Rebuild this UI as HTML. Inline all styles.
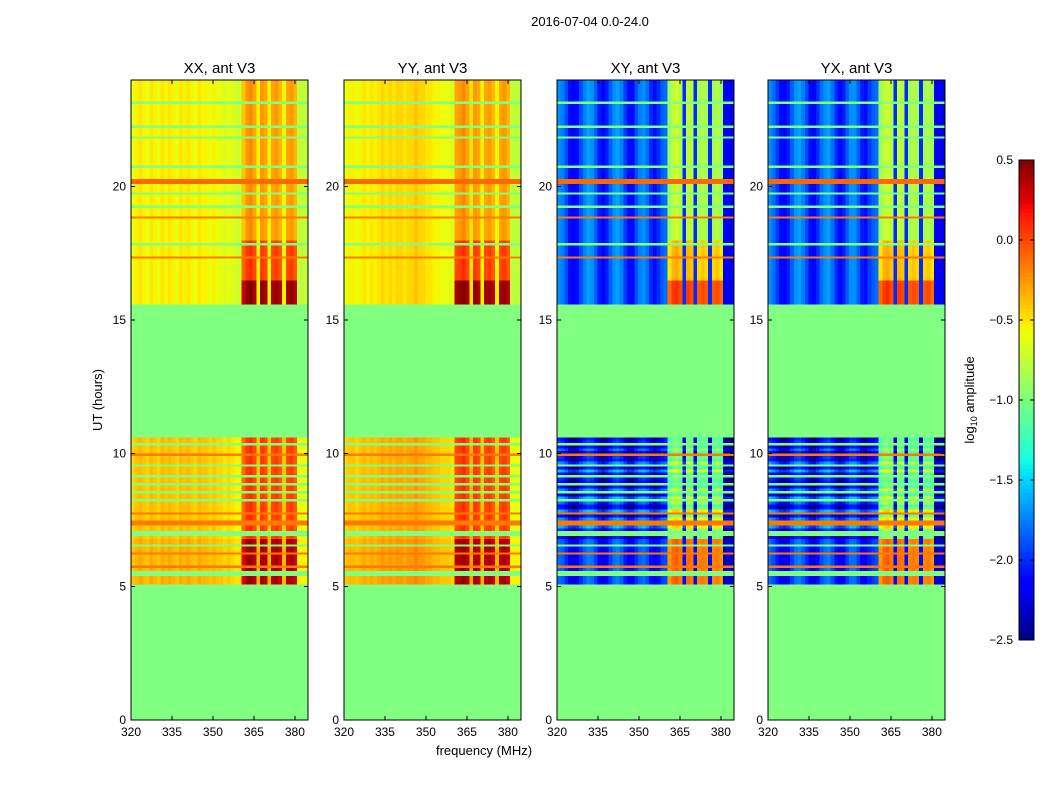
<!DOCTYPE html>
<html><head><meta charset="utf-8"><style>
body{margin:0;background:#fff;width:1050px;height:800px;overflow:hidden;font-family:"Liberation Sans",sans-serif}
svg text{font-family:"Liberation Sans",sans-serif}
</style></head><body>
<svg id="fig" width="1050" height="800" xmlns="http://www.w3.org/2000/svg" shape-rendering="crispEdges">
<rect width="1050" height="800" fill="#fff"/>
<text x="590" y="26" font-size="13" text-anchor="middle">2016-07-04 0.0-24.0</text>
<text transform="translate(102,400) rotate(-90)" font-size="13" text-anchor="middle">UT (hours)</text>
<text x="484" y="755" font-size="13" text-anchor="middle">frequency (MHz)</text>
<g id="panels"></g>
<g id="cbar"></g>
</svg>
<script>
// ---- data arrays ----
const panelTitles=["XX, ant V3","YY, ant V3","XY, ant V3","YX, ant V3"];
const xTicks=[320,335,350,365,380];
const yTicks=[0,5,10,15,20];
const cbTicks=[0.5,0.0,-0.5,-1.0,-1.5,-2.0,-2.5];
// 48 channel profiles (log10 amplitude), 320 -> 384.8 MHz
const profXX=[-0.6,-0.55,-0.5,-0.55,-0.6,-0.5,-0.55,-0.6,-0.5,-0.55,-0.5,-0.55,-0.6,-0.5,-0.55,-0.5,-0.55,-0.6,-0.5,-0.55,-0.55,-0.6,-0.55,-0.6,-0.6,-0.65,-0.6,-0.65,-0.7,-0.7,-0.45,-0.3,-0.25,-0.35,-0.55,-0.3,-0.35,-0.55,-0.35,-0.3,-0.4,-0.55,-0.35,-0.3,-0.4,-0.75,-0.75,-0.75];
const profYY=[-0.6,-0.55,-0.55,-0.6,-0.55,-0.5,-0.55,-0.5,-0.55,-0.5,-0.45,-0.5,-0.45,-0.5,-0.45,-0.45,-0.5,-0.45,-0.45,-0.4,-0.45,-0.45,-0.5,-0.5,-0.55,-0.55,-0.6,-0.6,-0.6,-0.65,-0.35,-0.3,-0.25,-0.35,-0.5,-0.3,-0.35,-0.55,-0.35,-0.3,-0.4,-0.55,-0.35,-0.3,-0.4,-0.75,-0.75,-0.75];
const profXY=[-1.7,-1.75,-1.9,-2.1,-2.15,-2.1,-1.9,-1.75,-1.65,-1.7,-1.85,-2.05,-2.15,-2.05,-1.85,-1.7,-1.65,-1.75,-1.95,-2.1,-2.1,-1.9,-1.75,-1.7,-1.8,-2.0,-2.1,-2.0,-1.85,-1.8,-1.0,-0.85,-0.8,-0.9,-2.0,-0.85,-0.9,-2.0,-0.95,-0.9,-0.95,-2.0,-0.95,-0.9,-1.0,-2.2,-2.2,-2.2];
const profYX=[-1.7,-1.8,-1.95,-2.1,-2.15,-2.05,-1.85,-1.7,-1.65,-1.75,-1.9,-2.1,-2.15,-2.0,-1.8,-1.7,-1.65,-1.8,-2.0,-2.1,-2.05,-1.85,-1.7,-1.7,-1.85,-2.05,-2.1,-1.95,-1.85,-1.8,-1.0,-0.85,-0.8,-0.9,-2.0,-0.85,-0.9,-2.0,-0.95,-0.9,-0.95,-2.0,-0.95,-0.9,-1.0,-2.2,-2.2,-2.2];
const bandMask=[0,0,0,0,0,0,0,0,0,0,0,0,0,0,0,0,0,0,0,0,0,0,0,0,0,0,0,0,0,0,1,1,1,1,0,1,1,0,1,1,1,0,1,1,1,0,0,0];
// time segments: [startHour, endHour, rowOffset, bandBoost]
const segCo=[[5.1,6.8,0.2,0.5],[6.8,10.6,0.15,0.2],[15.6,16.5,0.0,0.75],[16.5,18.0,0.0,0.35],[18.0,24.0,0.0,0.05]];
const segCross=[[5.1,6.8,-0.1,0.85],[6.8,8.0,-0.15,0.25],[8.0,10.6,-0.15,0.1],[15.6,16.5,0.0,0.9],[16.5,18.0,0.0,0.5],[18.0,24.0,0.0,0.1]];
// flagged rows: [hour, uniform value]; null = masked colour
const flagRows=[[23.6,-0.15],[23.2,null],[22.6,null],[22.3,null],[21.9,null],[20.8,null],[20.3,-0.1],[20.2,-0.1],[19.8,null],[19.3,null],[18.9,-0.15],[18.6,-0.15],[18.3,null],[17.9,null],[17.4,-0.15],[16.8,null],[10.4,null],[10.0,-0.15],[9.6,null],[9.2,null],[8.9,null],[8.6,null],[8.3,null],[7.8,-0.15],[7.4,-0.15],[7.0,null],[6.6,null],[6.3,-0.15],[5.8,-0.15],[5.5,null]];
// cross-pol row offsets, lower block (per 0.1h from 6.8 to 10.6)
const crossRowOff=[-0.2,0.2,-0.2,-0.1,0.3,-0.2,-0.1,0.2,-0.2,-0.1,0.3,-0.2,-0.2,0.1,-0.2,0.3,-0.2,-0.1,0.2,-0.2,0.3,-0.2,-0.1,0.1,-0.2,0.3,-0.2,-0.1,0.2,-0.2,-0.1,0.3,-0.2,0.1,-0.2,0.2,-0.1,-0.2];
// ---- drawing ----
const NS="http://www.w3.org/2000/svg";
const panelX=[131,344,557,768],PW=177,PT=80,PB=720;
const fMin=320,fMax=384.8,NCH=48,DT=0.1,MASKC="#80ff80";
function interp(t,pts){for(let i=1;i<pts.length;i++){if(t<=pts[i][0]){const a=pts[i-1],b=pts[i];return a[1]+(b[1]-a[1])*(t-a[0])/(b[0]-a[0]);}}return pts[pts.length-1][1];}
function jet(v){let t=(v+2.5)/3;t=Math.max(0,Math.min(1,t));
 const r=interp(t,[[0,0],[0.35,0],[0.66,1],[0.89,1],[1,0.5]]);
 const g=interp(t,[[0,0],[0.125,0],[0.375,1],[0.64,1],[0.91,0],[1,0]]);
 const b=interp(t,[[0,0.5],[0.11,1],[0.34,1],[0.65,0],[1,0]]);
 return `rgb(${Math.round(r*255)},${Math.round(g*255)},${Math.round(b*255)})`;}
function yS(h){return PB-(h/24)*(PB-PT);}
function xS(x0,f){return x0+(f-fMin)/(fMax-fMin)*PW;}
function el(t,a,p){const e=document.createElementNS(NS,t);for(const k in a)e.setAttribute(k,a[k]);p.appendChild(e);return e;}
const profs=[profXX,profYY,profXY,profYX];
const panelsG=document.getElementById('panels');
function rowInfo(h,cross){
 for(const f of flagRows){if(Math.abs(f[0]-h)<0.05)return{flag:f[1]};}
 const segs=cross?segCross:segCo;
 for(const s of segs){if(h>=s[0]-1e-6&&h<s[1]-1e-6){let off=s[2];
   if(cross&&h>=6.8&&h<10.6){off+=crossRowOff[Math.floor((h-6.8)/DT+1e-6)]||0;}
   return{off:off,boost:s[3]};}}
 return null;}
panelX.forEach((x0,p)=>{
 const g=el('g',{},panelsG);
 
 
 const bg=el('rect',{x:x0,y:PT,width:PW,height:PB-PT,fill:MASKC},g);
 
 
 const cross=p>=2,prof=profs[p];
 for(let i=0;i<240;i++){
  const h=i*DT+DT/2;const info=rowInfo(h,cross);if(!info)continue;
  const y1=yS(i*DT+DT),y0=yS(i*DT);
  if(info.flag!==undefined){
   const r=el('rect',{x:x0,y:y1.toFixed(2),width:PW,height:(y0-y1).toFixed(2),fill:info.flag===null?MASKC:jet(info.flag)},g);
   
   
   continue;}
  for(let k=0;k<NCH;k++){
   const f0=fMin+k*(fMax-fMin)/NCH,f1=f0+(fMax-fMin)/NCH;
   const v=prof[k]+info.off+info.boost*bandMask[k];
   const xa=xS(x0,f0),xb=xS(x0,f1);
   const r=el('rect',{x:xa.toFixed(2),y:y1.toFixed(2),width:(xb-xa+0.4).toFixed(2),height:(y0-y1+0.3).toFixed(2),fill:jet(v)},g);
   
   
  }
 }
 const fr=el('rect',{x:x0,y:PT,width:PW,height:PB-PT,fill:'none',stroke:'#000','stroke-width':1},g);
 
 
 const t=el('text',{x:x0+PW/2,y:73,'font-size':15,'text-anchor':'middle'},g);t.textContent=panelTitles[p];
 
 
 xTicks.forEach(v=>{const x=xS(x0,v);
  el('line',{x1:x,x2:x,y1:PB,y2:PB-4,stroke:'#000'},g);el('line',{x1:x,x2:x,y1:PT,y2:PT+4,stroke:'#000'},g);
  const tx=el('text',{x:x,y:PB+16,'font-size':12,'text-anchor':'middle'},g);tx.textContent=v;
  
  });
 yTicks.forEach(v=>{const y=yS(v);
  el('line',{x1:x0,x2:x0+4,y1:y,y2:y,stroke:'#000'},g);el('line',{x1:x0+PW,x2:x0+PW-4,y1:y,y2:y,stroke:'#000'},g);
  const ty=el('text',{x:x0-5,y:y+4,'font-size':12,'text-anchor':'end'},g);ty.textContent=v;
  
  });
});
// colorbar
const cb=document.getElementById('cbar');


const cbX=1019,cbW=15,cbT=160,cbB=640;
for(let i=0;i<120;i++){const v=-2.5+3*(i+0.5)/120;const y=cbB-(i+1)*(cbB-cbT)/120;
 el('rect',{x:cbX,y:y.toFixed(2),width:cbW,height:((cbB-cbT)/120+0.5).toFixed(2),fill:jet(v)},cb);}
el('rect',{x:cbX,y:cbT,width:cbW,height:cbB-cbT,fill:'none',stroke:'#000'},cb);
cbTicks.forEach(v=>{const y=cbB-(v+2.5)/3*(cbB-cbT);
 el('line',{x1:cbX,x2:cbX+4,y1:y,y2:y,stroke:'#000'},cb);el('line',{x1:cbX+cbW,x2:cbX+cbW-4,y1:y,y2:y,stroke:'#000'},cb);
 const t=el('text',{x:1013,y:y+4,'font-size':12,'text-anchor':'end'},cb);t.textContent=(v<0?'\u2212':'')+Math.abs(v).toFixed(1);
 
 });
const cl=el('text',{transform:'translate(974,400) rotate(-90)','font-size':13,'text-anchor':'middle'},cb);
cl.innerHTML='log<tspan font-size="9" dy="3">10</tspan><tspan dy="-3"> amplitude</tspan>';


</script>
</body></html>
